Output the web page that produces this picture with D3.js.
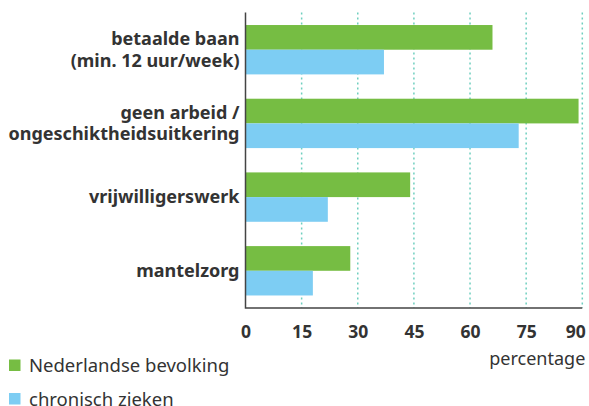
<!DOCTYPE html>
<html>
<head>
<meta charset="utf-8">
<script src="https://cdn.jsdelivr.net/npm/d3@7"></script>
<style>
  body { margin: 0; background: #fff; }
  svg { display: block; font-family: "Noto Sans", sans-serif; }
</style>
</head>
<body>
<svg id="chart" width="589" height="406"></svg>
<script>
const categories = [
  ['betaalde baan', '(min. 12 uur/week)'],
  ['geen arbeid /', 'ongeschiktheidsuitkering'],
  ['vrijwilligerswerk'],
  ['mantelzorg']
];
const seriesNames = ['Nederlandse bevolking', 'chronisch zieken'];
const nederland = [66, 89, 44, 28];
const chronisch = [37, 73, 22, 18];
const xTicks = [0, 15, 30, 45, 60, 75, 90];

const colors = ['#76bd43', '#7dcdf3'];
const textColor = '#333';

const svg = d3.select('#chart');
const plotLeft = 245.5, plotRight = 582.3, plotTop = 12.5, plotBottom = 308;

const x = d3.scaleLinear().domain([0, 90]).range([plotLeft, plotRight]);
const y = d3.scaleBand()
  .domain(d3.range(categories.length))
  .range([plotTop, plotBottom])
  .paddingInner(0.33)
  .paddingOuter(0.17);
const ySub = d3.scaleBand().domain([0, 1]).range([0, y.bandwidth()]);

// gridlines
svg.append('g')
  .selectAll('line')
  .data(xTicks.filter(d => d > 0))
  .enter().append('line')
  .attr('x1', d => x(d)).attr('x2', d => x(d))
  .attr('y1', plotTop).attr('y2', plotBottom)
  .attr('stroke', '#6fcfbf')
  .attr('stroke-width', 1.5)
  .attr('stroke-dasharray', '2,3');

// bars
const rows = categories.map((c, i) => ({ i, vals: [nederland[i], chronisch[i]] }));
const g = svg.append('g');
rows.forEach(r => {
  g.selectAll(null)
    .data(r.vals)
    .enter().append('rect')
    .attr('x', x(0))
    .attr('y', (d, j) => y(r.i) + ySub(j))
    .attr('width', d => x(d) - x(0))
    .attr('height', ySub.bandwidth())
    .attr('fill', (d, j) => colors[j]);
});

// axes lines
svg.append('path')
  .attr('d', `M${plotLeft},${plotTop}V${plotBottom}H${plotRight}`)
  .attr('fill', 'none')
  .attr('stroke', '#444')
  .attr('stroke-width', 1.5);

// x tick labels
const xAxis = d3.axisBottom(x).tickValues(xTicks).tickSize(0).tickPadding(0);
const ax = svg.append('g')
  .attr('transform', `translate(0,${plotBottom})`)
  .call(xAxis);
ax.select('.domain').remove();
ax.selectAll('text')
  .attr('y', 30)
  .attr('dy', 0)
  .attr('fill', textColor)
  .style('font-size', '17.5px')
  .style('font-weight', 'bold')
  .style('font-family', '"Noto Sans", sans-serif');
// last label sits flush with the right edge
ax.selectAll('.tick').filter(d => d === 90).select('text')
  .attr('text-anchor', 'end')
  .attr('x', 3);

svg.append('text')
  .attr('x', plotRight + 3)
  .attr('y', 365)
  .attr('text-anchor', 'end')
  .attr('fill', textColor)
  .style('font-size', '18px')
  .text('percentage');

// category labels
const lineH = 21.7;
categories.forEach((lines, i) => {
  const cy = y(i) + y.bandwidth() / 2;
  const t = svg.append('text')
    .attr('text-anchor', 'end')
    .attr('fill', textColor)
    .style('font-size', '18px')
    .style('font-weight', 'bold');
  lines.forEach((l, k) => {
    t.append('tspan')
      .attr('x', 239.5)
      .attr('y', cy + 6 + (k - (lines.length - 1) / 2) * lineH)
      .text(l);
  });
});

// legend
seriesNames.forEach((s, j) => {
  const ly = 359.5 + j * 33.5;
  svg.append('rect')
    .attr('x', 9).attr('y', ly)
    .attr('width', 11.5).attr('height', 11.5)
    .attr('fill', colors[j]);
  svg.append('text')
    .attr('x', 29).attr('y', ly + 12.5)
    .attr('fill', textColor)
    .style('font-size', '18.5px')
    .text(s);
});
</script>
</body>
</html>
